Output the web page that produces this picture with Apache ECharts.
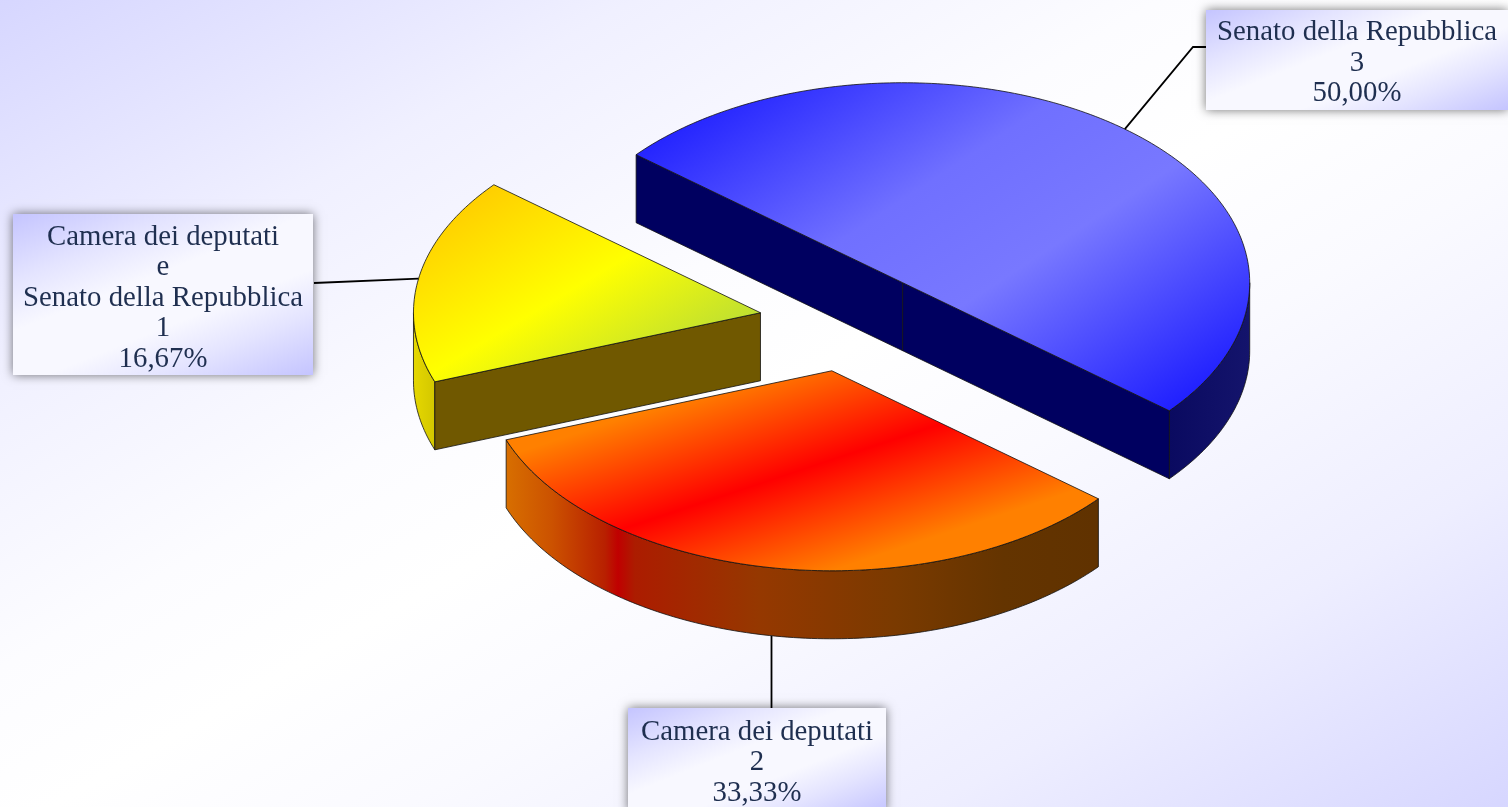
<!DOCTYPE html>
<html><head><meta charset="utf-8">
<style>html,body{margin:0;padding:0;overflow:hidden}#c{width:1508px;height:807px}</style>
<script src="https://cdn.jsdelivr.net/npm/echarts@6/dist/echarts.min.js"></script>
</head><body><div id="c"></div>
<script>
const categories = ['Camera dei deputati', 'Camera dei deputati\ne\nSenato della Repubblica', 'Senato della Repubblica'];
const values = [2, 1, 3];

const total = values.reduce((a, b) => a + b, 0);
const fontCss = '28.8px "Liberation Serif"';
const rx = 347, ry = 200, depth = 68;
const cx = 846.7, cy = 321.3, explodeX = 87.5, explodeY = 50.2;
const startDeg = 39.8;
const lg = (x0, y0, x1, y1, stops) => new echarts.graphic.LinearGradient(x0, y0, x1, y1,
  stops.map(s => ({offset: s[0], color: s[1]})), true);
const hg = (x0, x1, stops) => lg(x0, 0, x1, 0, stops);
const looks = [
  { top: lg(747, 377, 813, 577, [[0,'#ff8000'],[0.5,'#ff0000'],[1,'#ff8000']]),
    arc: hg(504, 1098, [[0,'#d87000'],[0.08,'#cc5200'],[0.17,'#b82000'],[0.192,'#c00000'],[0.22,'#ac1c00'],[0.43,'#953800'],[0.66,'#7a3a00'],[0.84,'#643400'],[1,'#603200']]),
    cut: '#603000',
    box: [628, 708, 258, 104], boxLine: [[771.5, 708]], text: 762.5 },
  { top: lg(470, 190, 598, 405, [[0,'#ffcc00'],[0.55,'#ffff00'],[1,'#c0e030']]),
    arc: hg(413, 434, [[0,'#e6d800'],[1,'#d4c800']]),
    cut: '#705800',
    box: [13, 214, 300, 161], boxLine: [[314, 283]], text: 298 },
  { top: lg(640, 155, 918, 577, [[0,'#2626ff'],[0.36,'#7070ff'],[0.6,'#7878ff'],[1,'#2020ff']]),
    arc: hg(1169, 1250, [[0,'#0a0a60'],[1,'#14146c']]),
    cut: '#000060',
    box: [1206, 10, 302, 100], boxLine: [[1193, 47], [1206, 47]], text: 63 }
];
const toRad = d => d * Math.PI / 180;
const ell = (o, d, dy) => [o[0] + rx * Math.cos(toRad(d)), o[1] + ry * Math.sin(toRad(d)) + (dy || 0)];
const edge = '#111';

function boxFill(b) {
  const nx = 0.37, ny = 0.93;
  const half = (b[2] * nx + b[3] * ny) / 2, mx = b[0] + b[2] / 2, my = b[1] + b[3] / 2;
  return lg(mx - half * nx, my - half * ny, mx + half * nx, my + half * ny,
    [[0,'#c4c4ff'],[0.24,'#e4e4ff'],[0.42,'#f8f8ff'],[0.62,'#f8f8ff'],[0.78,'#e4e4ff'],[1,'#c4c4ff']]);
}

function renderSlice(params, api) {
  const i = params.dataIndex;
  let before = 0;
  for (let k = 0; k < i; k++) before += values[k];
  const a0 = startDeg + before / total * 360;
  const a1 = a0 + api.value(0) / total * 360;
  const mid = (a0 + a1) / 2;
  const apex = [cx + explodeX * Math.cos(toRad(mid)), cy + explodeY * Math.sin(toRad(mid))];
  const look = looks[i];
  const kids = [];
  const sample = (s, e, dy) => {
    const pts = [];
    const n = Math.max(2, Math.ceil(e - s));
    for (let k = 0; k <= n; k++) pts.push(ell(apex, s + (e - s) * k / n, dy));
    return pts;
  };
  const face = (pts, fill) => kids.push({type: 'polygon', shape: {points: pts},
    style: {fill: fill, stroke: edge, lineWidth: 0.8}});
  // rim: only the part of the arc that faces the viewer
  [[0, 180], [360, 540]].forEach(w => {
    const s = Math.max(a0, w[0]), e = Math.min(a1, w[1]);
    if (e > s) face(sample(s, e, 0).concat(sample(s, e, depth).reverse()), look.arc);
  });
  // cut faces
  const p0 = ell(apex, a0), p1 = ell(apex, a1);
  const wall = p => face([apex, p, [p[0], p[1] + depth], [apex[0], apex[1] + depth]], look.cut);
  if (p0[0] < apex[0]) wall(p0);
  if (p1[0] > apex[0]) wall(p1);
  // top
  face([apex].concat(sample(a0, a1, 0)), look.top);
  // leader line, anchored at the mid-angle of the slice
  const down = Math.sin(toRad(mid)) > 0 ? depth : 0;
  const from = ell(apex, mid, down);
  if (Math.abs(from[0] - look.boxLine[0][0]) < 2) from[0] = look.boxLine[0][0];
  kids.push({type: 'polyline', z2: 5, shape: {points: [from].concat(look.boxLine)},
    style: {fill: null, stroke: '#000', lineWidth: 1.8}});
  // label box
  const b = look.box;
  kids.push({type: 'rect', z2: 10, shape: {x: b[0], y: b[1], width: b[2], height: b[3]},
    style: {fill: boxFill(b), shadowBlur: 10, shadowColor: 'rgba(0,0,0,0.55)', shadowOffsetX: 0, shadowOffsetY: 0}});
  const pct = (api.value(0) / total * 100).toFixed(2).replace('.', ',');
  kids.push({type: 'text', z2: 11, style: {
    text: categories[i] + '\n' + api.value(0) + '\n' + pct + '%',
    x: b[0] + b[2] / 2, y: look.text, align: 'center', verticalAlign: 'middle',
    font: fontCss, lineHeight: 30.5, fill: '#1f2f50'}});
  return {type: 'group', children: kids};
}

const chart = echarts.init(document.getElementById('c'), null, {renderer: 'canvas', width: 1508, height: 807});
chart.setOption({
  animation: false,
  backgroundColor: lg(390, -230, 1118, 1036, [[0,'#d6d6ff'],[0.22,'#f0f0ff'],[0.4,'#fcfcff'],[0.5,'#ffffff'],[0.62,'#fafaff'],[0.8,'#eeeeff'],[1,'#d6d6ff']]),
  series: [{
    type: 'custom', coordinateSystem: 'none', clip: false,
    renderItem: renderSlice,
    data: values.map((v, i) => ({name: categories[i], value: [v]}))
  }]
});
</script></body></html>
